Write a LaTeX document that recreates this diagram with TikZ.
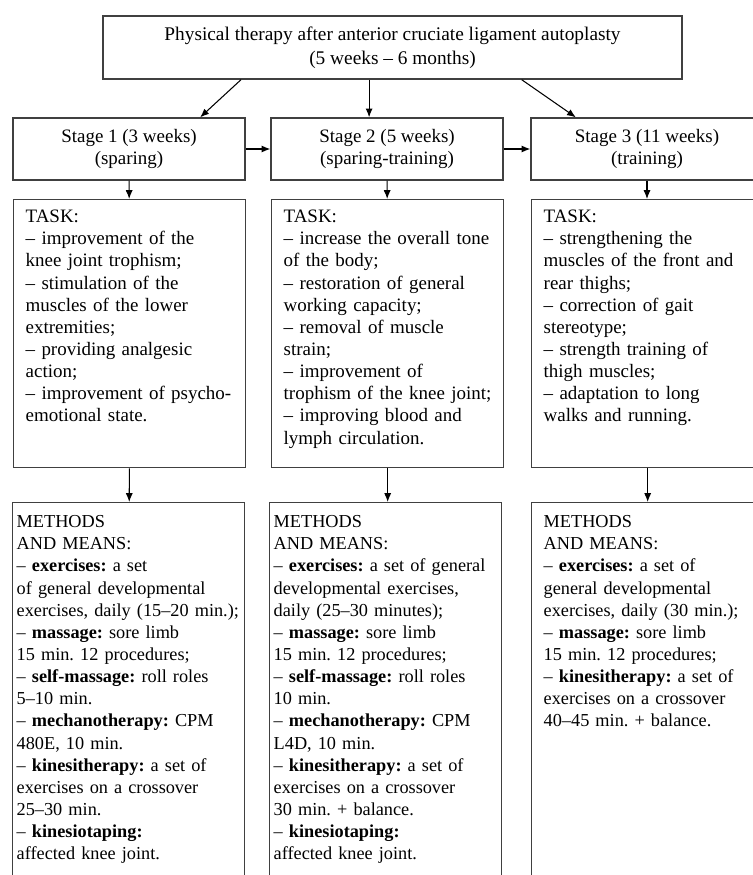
\documentclass[tikz,border=0pt]{standalone}
\usepackage{fontspec}
\setmainfont{Liberation Serif}
\usepackage{tikz}
\usetikzlibrary{positioning, arrows.meta, calc}
\frenchspacing

\begin{document}
\begin{tikzpicture}[
x=0.02cm, y=-0.02cm,
    head/.style={draw=black!75, line width=0.8pt, minimum width=11.58cm, minimum height=1.26cm, align=center, font={\fontsize{11}{13.4}\selectfont}},
    stagebox/.style={draw=black!75, line width=0.8pt, minimum width=4.64cm, minimum height=1.24cm, align=center, font={\fontsize{10.8}{13}\selectfont}},
    taskbox/.style={draw=black!75, line width=0.8pt, anchor=north west, align=left, inner xsep=0.24cm, inner ysep=0.1cm, text width=4.16cm, text height=0.36cm, text depth=4.8cm, font={\fontsize{10.8}{12.6}\selectfont}},
    meansbox/.style={draw=black!75, line width=0.8pt, anchor=north west, align=left, inner xsep=0.08cm, inner ysep=0.1cm, text width=4.48cm, text height=0.4cm, text depth=8cm, font={\fontsize{10.4}{12.6}\selectfont}},
    arrow/.style={draw, line width=0.6pt, -{Latex[length=5pt, width=4pt]}}
]
    \useasboundingbox (0,0) rectangle (753,875);
    \clip (0,0) rectangle (753,875);

    % --- Whole course ---
    \node[head] (therapy) at (392.5,47.5) {Physical therapy after anterior cruciate ligament autoplasty\\(5 weeks -- 6 months)};

    % --- Stages ---
    \node[stagebox] (stage1) at (129,149) {Stage 1 (3 weeks)\\(sparing)};
    \node[stagebox] (stage2) at (387,149) {Stage 2 (5 weeks)\\(sparing-training)};
    \node[stagebox] (stage3) at (647,149) {Stage 3 (11 weeks)\\(training)};

    \draw[arrow] (therapy.192) -- (stage1.24);
    \draw[arrow] (therapy.234.5) -- (therapy.234.5 |- stage2.north);
    \draw[arrow] (therapy.346.6) -- (stage3.156);
    \draw[arrow] (stage1) -- (stage2);
    \draw[arrow] (stage2) -- (stage3);

    % --- Tasks ---
    \node[taskbox] (task1) at (13,199) {TASK:\\
    -- improvement of the\\
    knee joint trophism;\\
    -- stimulation of the\\
    muscles of the lower\\
    extremities;\\
    -- providing analgesic\\
    action;\\
    -- improvement of psycho-\\
    emotional state.};
    \node[taskbox] (task2) at (271,199) {TASK:\\
    -- increase the overall tone\\
    of the body;\\
    -- restoration of general\\
    working capacity;\\
    -- removal of muscle\\
    strain;\\
    -- improvement of\\
    trophism of the knee joint;\\
    -- improving blood and\\
    lymph circulation.};
    \node[taskbox] (task3) at (531,199) {TASK:\\
    -- strengthening the\\
    muscles of the front and\\
    rear thighs;\\
    -- correction of gait\\
    stereotype;\\
    -- strength training of\\
    thigh muscles;\\
    -- adaptation to long\\
    walks and running.};

    \draw[arrow] (stage1) -- (task1);
    \draw[arrow] (stage2) -- (task2);
    \draw[arrow] (stage3) -- (stage3 |- task3.north);

    % --- Methods and means ---
    \node[meansbox] (means1) at (12,502) {METHODS\\
    AND MEANS:\\
    -- \textbf{exercises:} a set\\
    of general developmental\\
    \mbox{exercises, daily (15--20 min.);}\\
    -- \textbf{massage:} sore limb\\
    15 min. 12 procedures;\\
    -- \textbf{self-massage:} roll roles\\
    5--10 min.\\
    -- \textbf{mechanotherapy:} CPM\\
    480E, 10 min.\\
    -- \textbf{kinesitherapy:} a set of\\
    exercises on a crossover\\
    25--30 min.\\
    -- \textbf{kinesiotaping:}\\
    affected knee joint.};
    \node[meansbox] (means2) at (269,502) {METHODS\\
    AND MEANS:\\
    -- \textbf{exercises:} a set of general\\
    developmental exercises,\\
    daily (25--30 minutes);\\
    -- \textbf{massage:} sore limb\\
    15 min. 12 procedures;\\
    -- \textbf{self-massage:} roll roles\\
    10 min.\\
    -- \textbf{mechanotherapy:} CPM\\
    L4D, 10 min.\\
    -- \textbf{kinesitherapy:} a set of\\
    exercises on a crossover\\
    30 min. + balance.\\
    -- \textbf{kinesiotaping:}\\
    affected knee joint.};
    \node[meansbox, inner xsep=0.24cm, text width=4.16cm] (means3) at (531,502) {METHODS\\
    AND MEANS:\\
    -- \textbf{exercises:} a set of\\
    general developmental\\
    exercises, daily (30 min.);\\
    -- \textbf{massage:} sore limb\\
    15 min. 12 procedures;\\
    -- \textbf{kinesitherapy:} a set of\\
    exercises on a crossover\\
    40--45 min. + balance.};

    \draw[arrow] (task1) -- (means1);
    \draw[arrow] (task2) -- (task2 |- means2.north);
    \draw[arrow] (task3) -- (task3 |- means3.north);

\end{tikzpicture}
\end{document}
